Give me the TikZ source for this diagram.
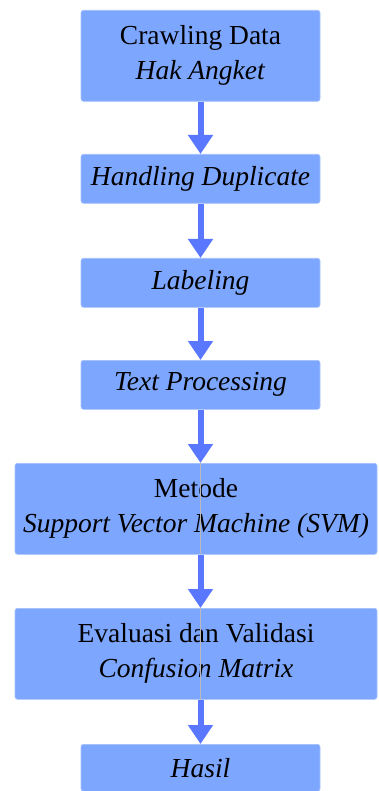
\documentclass[tikz,border=0pt]{standalone}
\usepackage{fontspec}
\setmainfont{Liberation Serif}
\usetikzlibrary{arrows.meta,positioning}
\definecolor{BoxBlue}{HTML}{7DA6FF}
\definecolor{FlowBlue}{HTML}{5A78FF}

\begin{document}
\begin{tikzpicture}[x=1pt,y=1pt,
  proc/.style={fill=BoxBlue,draw=BoxBlue!70!white,line width=0.6pt,rounded corners=2.5pt,
    anchor=north,align=center,font=\fontsize{27.5}{35}\selectfont},
  smallproc/.style={proc,minimum width=239pt,minimum height=49pt},
  wideproc/.style={proc,minimum width=362pt,minimum height=91pt},
  flow/.style={draw=FlowBlue,line width=6pt,-{Triangle[width=24pt,length=19pt]}}]
  \useasboundingbox (0,0) rectangle (379,-791);
  % steps of the process
  \node[smallproc,minimum height=91pt] (crawl) at (200.5,-10) {Crawling Data\\\textit{Hak Angket}};
  \node[smallproc] (dup) at (200.5,-154) {\textit{Handling Duplicate}};
  \node[smallproc] (label) at (200.5,-258) {\textit{Labeling}};
  \node[smallproc] (textproc) at (200.5,-360) {\textit{Text Processing}};
  \node[wideproc] (metode) at (196,-463) {Metode\\\textit{Support Vector Machine (SVM)}};
  \node[wideproc] (eval) at (196,-608) {Evaluasi dan Validasi\\\textit{Confusion Matrix}};
  \node[smallproc,minimum height=47pt] (hasil) at (200.5,-744) {\textit{Hasil}};
  % thin line through the wide boxes
  \foreach \b in {metode,eval}{
    \draw[gray!55,line width=0.6pt] (\b.north -| crawl) -- (\b.south -| crawl);
  }
  % arrows
  \foreach \a/\b in {crawl/dup,dup/label,label/textproc,textproc/metode,metode/eval,eval/hasil}{
    \draw[flow] (\a.south -| crawl) -- (\b.north -| crawl);
  }
\end{tikzpicture}
\end{document}
